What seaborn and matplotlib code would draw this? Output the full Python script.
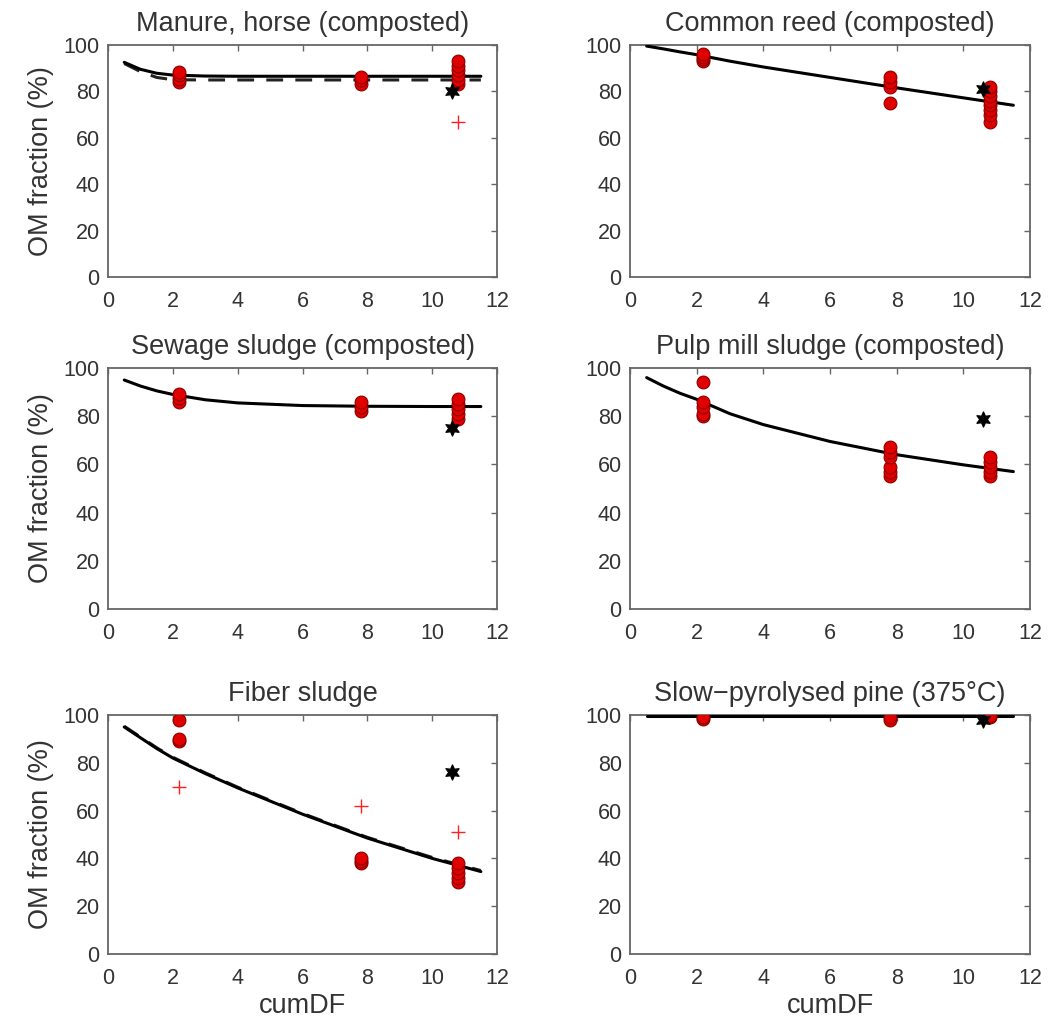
import numpy as np
import pandas as pd
import matplotlib
matplotlib.use("Agg")
import matplotlib.pyplot as plt
import seaborn as sns

sns.set_theme(style="white")
plt.rcParams['font.family'] = ['Liberation Sans', 'DejaVu Sans']

titles = ["Manure, horse (composted)", "Common reed (composted)",
          "Sewage sludge (composted)", "Pulp mill sludge (composted)",
          "Fiber sludge", "Slow\u2212pyrolysed pine (375\u00b0C)"]

# measured points (red circles)
pts_x = [
    [2.2]*4 + [7.8]*3 + [10.8]*6,
    [2.2]*4 + [7.8]*4 + [10.8]*8,
    [2.2]*3 + [7.8]*3 + [10.8]*5,
    [2.2]*5 + [7.8]*6 + [10.8]*5,
    [2.2]*3 + [7.8]*3 + [10.8]*5,
    [2.2]*2 + [7.8]*2 + [10.8]*2,
]
pts_y = [
    [84, 85.5, 87, 88.5, 83, 85, 86, 83, 85, 87, 89, 91, 93],
    [93, 94, 95, 96, 75, 82, 84, 86, 67, 70, 72, 74, 76, 78, 80, 82],
    [86, 87.5, 89, 82, 84, 86, 79, 81, 83, 85, 87],
    [80, 81, 84, 86, 94, 55, 57, 59, 63, 65, 67, 55, 57, 59, 61, 63],
    [89, 90, 98, 38, 39, 40, 30, 32, 34, 36, 38],
    [98.5, 99, 98, 99, 99, 99.5],
]
# red plus markers
plus_x = [[10.8], [], [], [], [2.2, 7.8, 10.8], []]
plus_y = [[67], [], [], [], [70, 62, 51], []]
# black star markers
star_x = [10.6, 10.6, 10.6, 10.6, 10.6, 10.6]
star_y = [80, 81, 75, 79, 76, 98]

# model curves (solid)
curve_x = [0.5, 1.0, 1.5, 2.0, 3.0, 4.0, 6.0, 8.0, 10.0, 11.5]
curve_y = [
    [92.5, 89.5, 87.8, 87.0, 86.6, 86.5, 86.5, 86.5, 86.5, 86.5],
    [99.5, 98.3, 97.0, 95.8, 93.0, 90.5, 86.0, 81.5, 77.2, 74.0],
    [95.0, 92.5, 90.5, 89.0, 86.8, 85.5, 84.4, 84.1, 84.0, 84.0],
    [96.0, 92.5, 89.5, 87.0, 81.0, 76.5, 69.5, 64.0, 59.8, 57.0],
    [95.0, 90.5, 86.0, 82.0, 75.5, 69.5, 58.5, 48.5, 40.0, 34.5],
    [99.8, 99.8, 99.8, 99.8, 99.8, 99.8, 99.8, 99.8, 99.8, 99.8],
]
# dashed curves (alternative model)
dash_y = [
    [92.0, 88.5, 86.0, 85.0, 84.9, 84.9, 84.9, 84.9, 84.9, 84.9],
    None, None, None,
    [95.3, 90.8, 86.3, 82.3, 75.8, 69.8, 58.8, 48.8, 40.4, 34.9],
    None,
]

lefts = [0.1029, 0.60]
widths = [0.3705, 0.381]
rows = [(0.7282, 0.2277), (0.4024, 0.2365), (0.0638, 0.2345)]

fig = plt.figure(figsize=(10.5, 10.19), dpi=100)
spine_c = "#666666"
text_c = "#333333"

for i in range(6):
    r, c = divmod(i, 2)
    ax = fig.add_axes([lefts[c], rows[r][0], widths[c], rows[r][1]])
    df_c = pd.DataFrame({"x": curve_x, "y": curve_y[i]})
    sns.lineplot(data=df_c, x="x", y="y", ax=ax, color="black", lw=2.2, zorder=3)
    if dash_y[i] is not None:
        df_d = pd.DataFrame({"x": curve_x, "y": dash_y[i]})
        sns.lineplot(data=df_d, x="x", y="y", ax=ax, color="#222222", lw=2.2,
                     zorder=2, dashes=False, linestyle=(0, (5.5, 4)))
    df_p = pd.DataFrame({"x": pts_x[i], "y": pts_y[i]})
    sns.scatterplot(data=df_p, x="x", y="y", ax=ax, color="#e00000",
                    edgecolor="#8b0000", linewidth=0.8, s=85, zorder=4)
    if plus_x[i]:
        df_q = pd.DataFrame({"x": plus_x[i], "y": plus_y[i]})
        sns.scatterplot(data=df_q, x="x", y="y", ax=ax, color="#ff2020",
                        marker="+", s=110, linewidth=1.0, zorder=4)
    df_s = pd.DataFrame({"x": [star_x[i]], "y": [star_y[i]]})
    sns.scatterplot(data=df_s, x="x", y="y", ax=ax, color="black",
                    marker=(6, 1, 0), s=120, edgecolor="black", zorder=5)

    ax.set_xlim(0, 12)
    ax.set_ylim(0, 100)
    ax.set_xticks([0, 2, 4, 6, 8, 10, 12])
    ax.set_yticks([0, 20, 40, 60, 80, 100])
    ax.tick_params(direction="in", length=4, width=1, color=spine_c,
                   top=True, right=True, labelsize=15.5, labelcolor=text_c)
    ax.tick_params(axis="x", pad=10)
    ax.tick_params(axis="y", pad=6)
    for s in ax.spines.values():
        s.set_color(spine_c)
        s.set_linewidth(1.3)
        s.set_visible(True)
    ax.set_title(titles[i], fontsize=19.5, color=text_c, pad=10)
    ax.set_xlabel("cumDF" if r == 2 else "", fontsize=19.5, color=text_c, labelpad=3)
    ax.set_ylabel("OM fraction (%)" if c == 0 else "", fontsize=19.5,
                  color=text_c, labelpad=7)

fig.savefig("out.png", dpi=100)
